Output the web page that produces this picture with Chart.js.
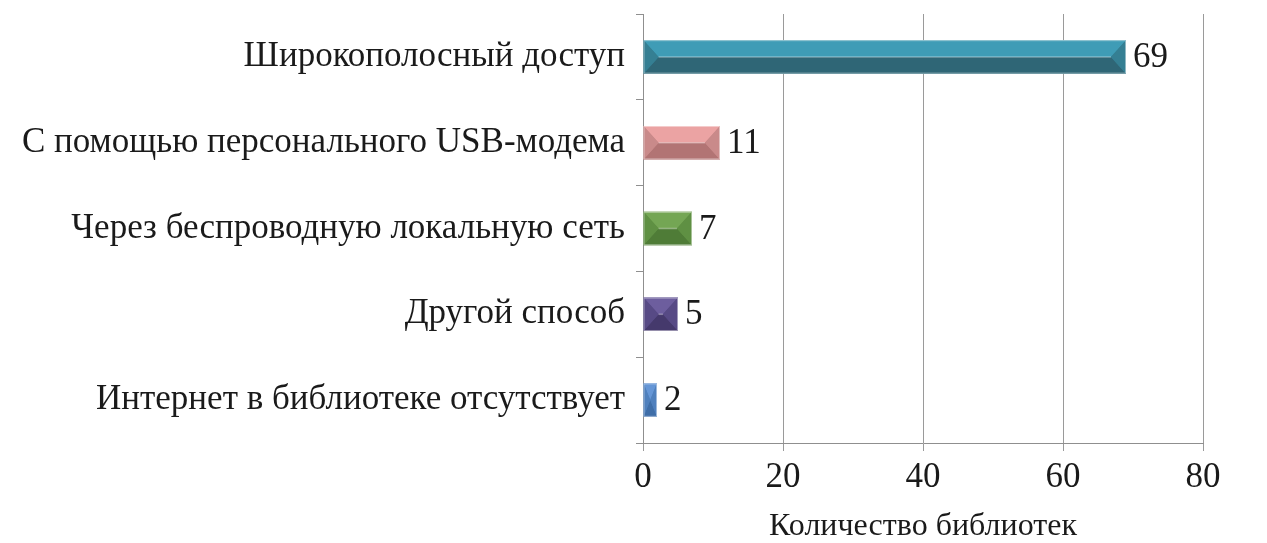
<!DOCTYPE html>
<html lang="ru">
<head>
  <meta charset="UTF-8">
  <title>Количество библиотек</title>
  <script src="https://cdn.jsdelivr.net/npm/chart.js"></script>
  <style>
    body { margin: 0; background: #fff; }
    canvas { display: block; }
  </style>
</head>
<body>
  <canvas id="myChart" width="1267" height="543"></canvas>

  <script>
    // --- данные ---
    const categories = [
      'Широкополосный доступ',
      'С помощью персонального USB-модема',
      'Через беспроводную локальную сеть',
      'Другой способ',
      'Интернет в библиотеке отсутствует'
    ];
    const values = [69, 11, 7, 5, 2];
    const xTicks = [0, 20, 40, 60, 80];
    const axisTitle = 'Количество библиотек';

    // цвета граней: [верх, низ, бок]
    const faceColors = [
      ['#3f9cb6', '#2f6676', '#357f93'],
      ['#eba3a3', '#b27474', '#c98a8a'],
      ['#74a654', '#4f7c37', '#5f9043'],
      ['#6d5e9e', '#45396c', '#574a85'],
      ['#6596d6', '#3f6ea8', '#4f80bd']
    ];

    const font = 'Liberation Serif';

    // скошенные грани и подписи значений
    const bevelPlugin = {
      id: 'bevel',
      afterDatasetsDraw(chart) {
        const c = chart.ctx;
        const meta = chart.getDatasetMeta(0);
        meta.data.forEach((bar, i) => {
          const L = Math.min(bar.base, bar.x), R = Math.max(bar.base, bar.x);
          const T = bar.y - bar.height / 2, B = bar.y + bar.height / 2;
          const mid = (T + B) / 2;
          const d = Math.min(bar.height * 0.45, (R - L) / 2);
          const [top, bottom, side] = faceColors[i];
          const poly = (pts, fill) => {
            c.beginPath();
            c.moveTo(pts[0][0], pts[0][1]);
            pts.slice(1).forEach(p => c.lineTo(p[0], p[1]));
            c.closePath();
            c.fillStyle = fill;
            c.fill();
          };
          c.save();
          poly([[L, T], [R, T], [R - d, mid], [L + d, mid]], top);
          poly([[L, B], [R, B], [R - d, mid], [L + d, mid]], bottom);
          poly([[L, T], [L + d, mid], [L, B]], side);
          poly([[R, T], [R - d, mid], [R, B]], side);
          // светлая полоса посередине
          c.strokeStyle = 'rgba(255,255,255,0.35)';
          c.lineWidth = 1.5;
          c.beginPath();
          c.moveTo(L + d, mid);
          c.lineTo(R - d, mid);
          c.stroke();
          c.strokeStyle = 'rgba(255,255,255,0.45)';
          c.lineWidth = 1;
          c.strokeRect(L + 0.5, T + 0.5, R - L - 1, B - T - 1);
          // подпись
          c.fillStyle = '#1a1a1a';
          c.font = '35px "' + font + '"';
          c.textAlign = 'left';
          c.textBaseline = 'middle';
          c.fillText(String(values[i]), R + 7, bar.y + 1);
          c.restore();
        });
      }
    };

    new Chart(document.getElementById('myChart'), {
      type: 'bar',
      data: {
        labels: categories,
        datasets: [{
          data: values,
          backgroundColor: faceColors.map(f => f[2]),
          borderWidth: 0,
          barPercentage: 0.39,
          categoryPercentage: 1
        }]
      },
      options: {
        indexAxis: 'y',
        responsive: false,
        animation: false,
        layout: { padding: { top: 14, right: 64, left: 0, bottom: 0 } },
        plugins: { legend: { display: false }, tooltip: { enabled: false } },
        scales: {
          y: {
            afterFit: s => { s.width = 643; s.paddingTop = 0; s.paddingBottom = 0; },
            grid: {
              drawOnChartArea: false,
              drawTicks: true,
              tickLength: 7,
              color: '#8f8f8f'
            },
            border: { color: '#8f8f8f' },
            ticks: {
              color: '#1a1a1a',
              padding: 11,
              font: { family: font, size: 35 }
            }
          },
          x: {
            min: 0,
            max: 80,
            afterFit: s => { s.height = 100; },
            afterBuildTicks: s => { s.ticks = xTicks.map(v => ({ value: v })); },
            grid: {
              color: '#9a9a9a',
              tickLength: 8
            },
            border: { color: '#8f8f8f' },
            ticks: {
              color: '#1a1a1a',
              padding: 6,
              font: { family: font, size: 35 }
            },
            title: {
              display: true,
              text: axisTitle,
              color: '#1a1a1a',
              padding: { top: 10, bottom: -3 },
              font: { family: font, size: 32 }
            }
          }
        }
      },
      plugins: [bevelPlugin]
    });
  </script>
</body>
</html>
